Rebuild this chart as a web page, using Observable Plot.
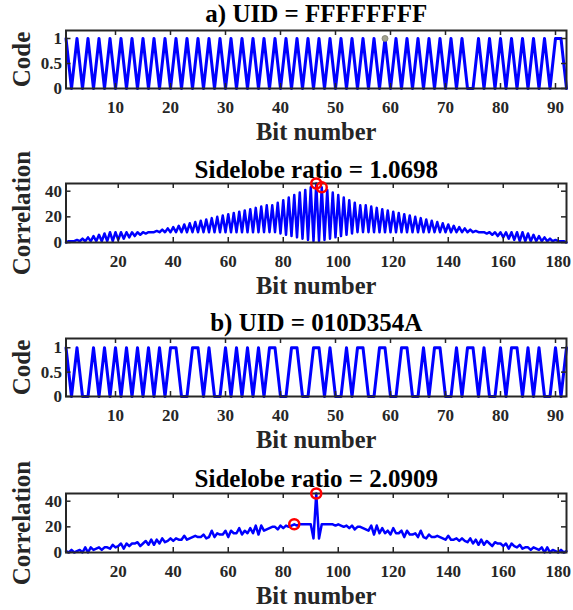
<!DOCTYPE html>
<html><head><meta charset="utf-8">
<script src="https://cdn.jsdelivr.net/npm/d3@7"></script>
<script src="https://cdn.jsdelivr.net/npm/@observablehq/plot@0.6"></script>
<style>
body{margin:0;background:#fff;}
#fig{position:relative;width:573px;height:610px;background:#fff;overflow:hidden;}
#fig svg{position:absolute;left:0;overflow:visible;}
</style></head><body><div id="fig"></div>
<script>
// a) UID = FFFFFFFF : 92-bit code
const codeA = [
1,0,1,0,1,0,1,0,1,0, 1,0,1,0,1,0,1,0,1,0, 1,0,1,0,1,0,1,0,1,0,
1,0,1,0,1,0,1,0,1,0, 1,0,1,0,1,0,1,0,1,0, 1,0,1,0,1,0,1,0,1,0,
1,0,1,0,1,0,1,0,1,0, 1,0,1,0,0,1,0,1,0,1, 0,1,0,1,0,1,0,1,0,1, 1,0];
// b) UID = 010D354A : 92-bit code
const codeB = [
1,0,1,0,0,1,0,1,0,1, 0,1,0,1,0,1,0,1,0,1, 1,0,0,1,1,0,1,0,0,1,
0,1,0,1,0,1,0,1,1,0, 0,1,1,0,0,1,1,0,1,0, 0,1,0,1,1,0,0,1,1,0,
0,1,1,0,0,1,0,1,1,0, 0,1,0,1,1,0,1,0,0,1, 0,1,1,0,1,0,1,0,0,1, 0,1];
// correlation a (183 values)
const corrA = [
0,1,1,1,2,1,3,1, 4,1,5,1,6,1,7,1,8,1,8,2, 8,3,8,4,8,5,8,6,8,7,8,8,
8,9,8,10,8,11,8,12,8,13,8,14, 8,15,8,16,8,17,8,18,8,19,8,20,
8,21,8,22,8,23,8,24,8,25,8,26, 8,27,8,28,8,29,8,29,8,31,7,33,
6,35,5,37,4,39,3,41,2,43,1,
46,
1,43,2,41,3,39,4,37,5,35,6, 33,7,31,8,29,8,29,8,28,8,27,8,
26,8,25,8,24,8,23,8,22,8,21,8, 20,8,19,8,18,8,17,8,16,8,15,8,
14,8,13,8,12,8,11,8,10,8,9,8, 8,8,7,8,6,8,5,8,4,8,3,8,
2,8,1,8,1,7,1,6,1,5,1,4, 1,3,1,2,1,1,1,0];
// correlation b (183 values)
const corrB = [
1,0,2,0,1,2,0,4, 0,4,2,3,4,2,4,4,3,6,4,5, 7,3,7,5,7,7,8,5,7,9,6,10,
6,10,7,11,8,9,11,9,11,10,10,13, 10,11,12,13,12,12,14,11,12,17,12,15,
14,14,17,12,17,15,15,19,14,17,15,19, 15,21,14,21,17,18,19,20,20,18,21,19,
21,20,21,22,21,22,22,22,22,22,11,
46,
11,22,22,22,22,22,21,22,21,20,21, 19,21,18,20,20,19,18,17,21,14,21,15,
19,15,17,14,19,15,15,17,12,17,14,14, 15,12,17,12,11,14,12,12,13,12,11,10,
13,10,10,11,9,11,9,8,11,7,10,6, 10,6,9,7,5,8,7,7,5,7,3,7,
5,4,6,3,4,4,2,4,3,2,4,0, 4,0,2,1,0,2,0,1];
const codeXTicks = [10,20,30,40,50,60,70,80,90];
const corrXTicks = [20,40,60,80,100,120,140,160,180];
const codeYTicks = [0,0.5,1];
const corrYTicks = [0,20,40];
const peaksA = [{x:92,y:46},{x:94,y:43}];
const peaksB = [{x:92,y:46},{x:84,y:22}];
const markA = [{x:59,y:1}];
const titles = ["a) UID = FFFFFFFF","Sidelobe ratio = 1.0698","b) UID = 010D354A","Sidelobe ratio = 2.0909"];
const yLabels = ["Code","Correlation"];
const xLabel = "Bit number";

const FONT = "'Liberation Serif','Times New Roman',serif";
const INK = "#262626";
function panel(o){
  const data = o.values.map((v,i)=>({x:i+1,y:v}));
  const mt = 34, mb = 60, ml = 65.5, mr = 7, W = 573;
  const pw = W-ml-mr;
  const marks = [
    Plot.line(data,{x:"x",y:"y",stroke:"#0000ff",strokeWidth:o.lw,strokeLinejoin:"round"}),
    Plot.frame({stroke:INK,strokeWidth:2}),
    Plot.tickX(o.xt,{x:d=>d,insetTop:o.h-5,stroke:INK,strokeWidth:1.5}),
    Plot.tickX(o.xt,{x:d=>d,insetBottom:o.h-5,stroke:INK,strokeWidth:1.5}),
    Plot.tickY(o.yt,{y:d=>d,insetRight:pw-5,stroke:INK,strokeWidth:1.5}),
    Plot.tickY(o.yt,{y:d=>d,insetLeft:pw-5,stroke:INK,strokeWidth:1.5}),
    Plot.axisX({ticks:o.xt,tickSize:0,tickPadding:12,fontSize:17,fontWeight:"bold",fill:INK,tickFormat:d=>String(d),label:null}),
    Plot.axisY({ticks:o.yt,tickSize:0,tickPadding:4,fontSize:17,fontWeight:"bold",fill:INK,tickFormat:d=>String(d),label:null}),
    Plot.text([o.ylabel],{text:d=>d,frameAnchor:"left",dx:-44,rotate:-90,textAnchor:"middle",lineAnchor:"middle",fontSize:25,fontWeight:"bold",fill:INK}),
    Plot.text([xLabel],{text:d=>d,frameAnchor:"bottom",dy:43.5,textAnchor:"middle",lineAnchor:"middle",fontSize:24.5,fontWeight:"bold",fill:INK}),
    Plot.text([o.title],{text:d=>d,frameAnchor:"top",dy:o.tdy,textAnchor:"middle",lineAnchor:"middle",fontSize:25,fontWeight:"bold",fill:"#000"})
  ];
  if(o.circles) marks.push(Plot.dot(o.circles,{x:"x",y:"y",r:5,stroke:"#ff0000",strokeWidth:2.5,fill:"none"}));
  if(o.gray) marks.push(Plot.dot(o.gray,{x:"x",y:"y",r:3,fill:"#a3a38f",stroke:"#7d7d70",strokeWidth:0.8}));
  const svg = Plot.plot({width:W,height:mt+o.h+mb,marginTop:mt,marginBottom:mb,marginLeft:ml,marginRight:mr,
    x:{domain:[1,o.values.length]},y:{domain:[0,o.ymax]},
    style:{fontFamily:FONT,background:"transparent",overflow:"visible"},marks});
  svg.style.top = (o.boxTop-mt)+"px";
  document.getElementById("fig").appendChild(svg);
}
panel({values:codeA,xt:codeXTicks,yt:codeYTicks,ymax:1.16,h:58,boxTop:30.3,ylabel:yLabels[0],title:titles[0],tdy:-16.5,lw:3,gray:markA});
panel({values:corrA,xt:corrXTicks,yt:corrYTicks,ymax:46,h:59,boxTop:183.3,ylabel:yLabels[1],title:titles[1],tdy:-14,lw:2.5,circles:peaksA});
panel({values:codeB,xt:codeXTicks,yt:codeYTicks,ymax:1.19,h:58,boxTop:338.3,ylabel:yLabels[0],title:titles[2],tdy:-16,lw:3});
panel({values:corrB,xt:corrXTicks,yt:corrYTicks,ymax:46,h:59,boxTop:492.7,ylabel:yLabels[1],title:titles[3],tdy:-14.5,lw:2.5,circles:peaksB});
</script></body></html>
